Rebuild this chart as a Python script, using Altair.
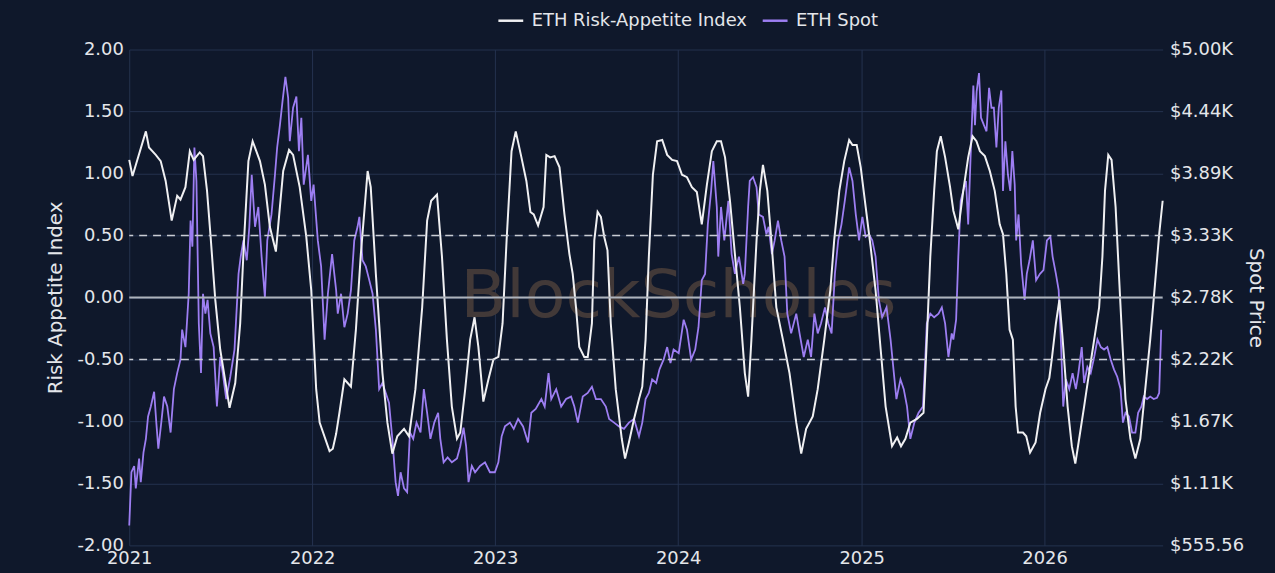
import altair as alt
import pandas as pd
import jinja2

# ---------------- data ----------------
# time positions are given as years elapsed since 2021-01-01
rai_years = [0.000,0.018,0.091,0.108,0.145,0.172,0.199,0.232,0.262,0.280,
             0.307,0.331,0.352,0.385,0.403,0.425,0.446,0.470,0.497,0.548,
             0.579,0.606,0.627,0.651,0.674,0.714,0.741,0.768,0.801,0.823,
             0.841,0.873,0.895,0.931,0.967,0.994,1.021,1.040,1.094,1.112,
             1.130,1.148,1.175,1.193,1.211,1.238,1.265,1.302,1.319,1.347,
             1.383,1.410,1.437,1.464,1.501,1.528,1.563,1.600,1.627,1.649,
             1.681,1.708,1.735,1.762,1.790,1.808,1.835,1.862,1.886,1.907,
             1.934,1.962,1.989,2.016,2.039,2.061,2.088,2.111,2.142,2.169,
             2.191,2.209,2.233,2.263,2.278,2.299,2.323,2.350,2.377,2.404,
             2.422,2.440,2.458,2.485,2.504,2.527,2.540,2.558,2.576,2.594,
             2.612,2.630,2.657,2.690,2.708,2.729,2.757,2.784,2.802,2.820,
             2.838,2.860,2.883,2.911,2.938,2.965,2.992,3.019,3.046,3.073,
             3.100,3.127,3.155,3.182,3.209,3.232,3.254,3.281,3.308,3.335,
             3.362,3.380,3.398,3.426,3.444,3.461,3.485,3.507,3.534,3.570,
             3.606,3.643,3.670,3.697,3.733,3.760,3.796,3.829,3.850,3.878,
             3.905,3.932,3.950,3.973,3.995,4.022,4.049,4.076,4.104,4.131,
             4.166,4.194,4.215,4.239,4.266,4.302,4.338,4.356,4.375,4.396,
             4.411,4.432,4.456,4.483,4.501,4.528,4.555,4.582,4.606,4.627,
             4.646,4.673,4.700,4.727,4.754,4.772,4.790,4.808,4.826,4.841,
             4.854,4.881,4.899,4.920,4.950,4.975,5.004,5.025,5.040,5.061,
             5.080,5.098,5.125,5.148,5.167,5.188,5.215,5.242,5.270,5.297,
             5.315,5.329,5.347,5.365,5.387,5.405,5.423,5.441,5.468,5.495,
             5.522,5.549,5.576,5.604,5.625,5.644]

rai_values = [1.11,0.98,1.34,1.21,1.15,1.10,0.94,0.62,0.82,0.79,
              0.89,1.18,1.11,1.17,1.14,0.86,0.46,-0.02,-0.42,-0.89,
              -0.69,-0.21,0.46,1.10,1.26,1.10,0.91,0.57,0.37,0.73,
              1.02,1.19,1.15,0.89,0.49,0.06,-0.74,-1.01,-1.24,-1.22,
              -1.10,-0.93,-0.66,-0.69,-0.72,-0.26,0.35,1.02,0.89,0.19,
              -0.61,-1.01,-1.26,-1.12,-1.06,-1.12,-0.74,-0.08,0.62,0.78,
              0.83,0.33,-0.34,-0.88,-1.14,-1.09,-0.74,-0.34,-0.16,-0.40,
              -0.84,-0.66,-0.50,-0.48,-0.21,0.46,1.18,1.34,1.13,0.94,
              0.69,0.67,0.58,0.73,1.15,1.13,1.14,1.05,0.67,0.35,
              0.19,-0.08,-0.40,-0.48,-0.48,-0.21,0.46,0.69,0.65,0.49,
              0.38,-0.21,-0.74,-1.14,-1.30,-1.17,-0.98,-0.82,-0.72,-0.34,
              0.33,0.99,1.26,1.27,1.15,1.11,1.10,0.99,0.97,0.89,
              0.85,0.59,0.91,1.18,1.26,1.26,1.13,0.78,0.35,-0.08,
              -0.61,-0.80,-0.34,0.46,0.86,1.07,0.86,0.46,-0.08,-0.34,
              -0.61,-1.01,-1.26,-1.06,-0.96,-0.74,-0.34,0.06,0.46,0.86,
              1.10,1.27,1.23,1.23,1.05,0.73,0.41,0.06,-0.42,-0.88,
              -1.20,-1.13,-1.20,-1.14,-1.01,-0.98,-0.93,-0.34,0.33,0.86,
              1.18,1.30,1.13,0.89,0.70,0.55,0.86,1.13,1.30,1.26,
              1.18,1.14,1.02,0.86,0.59,0.51,0.19,-0.26,-0.34,-0.88,
              -1.09,-1.09,-1.12,-1.25,-1.17,-0.93,-0.74,-0.65,-0.48,-0.21,
              -0.02,-0.34,-0.88,-1.20,-1.34,-1.14,-0.88,-0.61,-0.34,-0.08,
              0.33,0.86,1.15,1.11,0.73,0.19,-0.34,-0.82,-1.14,-1.30,
              -1.14,-0.74,-0.34,0.14,0.51,0.78]

spot_years = [0.000,0.012,0.027,0.036,0.054,0.063,0.078,0.091,0.103,0.118,
              0.136,0.148,0.159,0.175,0.190,0.208,0.226,0.244,0.262,0.280,
              0.289,0.307,0.325,0.335,0.345,0.356,0.367,0.380,0.392,0.403,
              0.416,0.428,0.443,0.461,0.479,0.497,0.511,0.530,0.552,0.575,
              0.597,0.609,0.624,0.642,0.656,0.669,0.687,0.705,0.723,0.741,
              0.754,0.777,0.796,0.808,0.823,0.837,0.853,0.868,0.877,0.895,
              0.913,0.927,0.940,0.953,0.976,0.994,1.007,1.030,1.048,1.067,
              1.085,1.108,1.130,1.139,1.157,1.175,1.193,1.211,1.229,1.247,
              1.257,1.274,1.292,1.311,1.329,1.347,1.365,1.383,1.401,1.419,
              1.437,1.455,1.468,1.482,1.501,1.518,1.533,1.551,1.569,1.591,
              1.609,1.627,1.645,1.666,1.687,1.699,1.717,1.739,1.762,1.790,
              1.808,1.826,1.840,1.853,1.871,1.889,1.916,1.943,1.970,1.997,
              2.016,2.034,2.052,2.079,2.100,2.124,2.151,2.178,2.196,2.220,
              2.251,2.269,2.290,2.305,2.332,2.359,2.386,2.413,2.431,2.450,
              2.477,2.504,2.527,2.549,2.576,2.603,2.621,2.648,2.675,2.702,
              2.729,2.757,2.784,2.802,2.820,2.838,2.856,2.878,2.896,2.919,
              2.938,2.956,2.973,3.001,3.028,3.046,3.069,3.091,3.109,3.127,
              3.145,3.160,3.178,3.190,3.209,3.217,3.232,3.250,3.272,3.290,
              3.308,3.330,3.353,3.362,3.380,3.389,3.407,3.426,3.438,3.461,
              3.480,3.492,3.510,3.525,3.543,3.561,3.579,3.594,3.615,3.643,
              3.661,3.684,3.706,3.724,3.742,3.760,3.778,3.800,3.818,3.836,
              3.854,3.872,3.890,3.908,3.932,3.950,3.968,3.986,4.004,4.022,
              4.040,4.058,4.076,4.094,4.112,4.136,4.158,4.176,4.190,4.212,
              4.230,4.248,4.266,4.288,4.311,4.335,4.348,4.356,4.375,4.396,
              4.420,4.438,4.456,4.474,4.492,4.501,4.516,4.528,4.541,4.555,
              4.570,4.582,4.595,4.610,4.619,4.628,4.641,4.652,4.668,4.682,
              4.696,4.709,4.722,4.736,4.749,4.763,4.772,4.785,4.799,4.812,
              4.823,4.836,4.844,4.857,4.871,4.890,4.902,4.917,4.935,4.953,
              4.974,4.993,5.012,5.031,5.043,5.061,5.076,5.088,5.101,5.115,
              5.134,5.152,5.170,5.184,5.202,5.215,5.233,5.251,5.270,5.288,
              5.306,5.324,5.342,5.360,5.378,5.396,5.414,5.427,5.441,5.460,
              5.477,5.495,5.510,5.528,5.541,5.559,5.576,5.595,5.613,5.625,
              5.636]

spot_values = [734,1211,1267,1067,1334,1122,1389,1511,1711,1800,
               1933,1656,1422,1656,1889,1800,1567,1956,2100,2222,
               2489,2333,2811,3467,3233,4122,3822,2544,2100,2811,
               2633,2756,2456,2333,1800,2244,2100,1867,2067,2311,
               2989,3144,3289,3111,3411,3878,3411,3589,3144,2778,
               3289,3522,3878,4122,4322,4533,4756,4567,4178,4478,
               4578,4089,4389,3789,4056,3644,3789,3289,3056,2400,
               2811,3167,2844,2633,2811,2511,2633,2844,3289,3411,
               3500,3111,3056,2933,2811,2489,1956,2011,1922,1833,
               1511,1122,1000,1211,1067,1033,1567,1511,1656,1567,
               1956,1744,1511,1656,1744,1511,1300,1344,1300,1334,
               1444,1611,1444,1122,1267,1211,1267,1300,1211,1211,
               1300,1533,1622,1656,1600,1689,1622,1478,1744,1778,
               1867,1800,2100,1867,1956,1800,1867,1889,1800,1656,
               1889,1922,1978,1867,1867,1800,1689,1656,1622,1600,
               1656,1689,1533,1656,1867,1922,2044,2011,2133,2222,
               2333,2189,2311,2278,2578,2489,2222,2311,2511,2933,
               2989,3433,3733,4000,3589,3144,3589,3289,3644,3167,
               2989,3144,2900,2989,3589,3822,3856,3767,3522,3500,
               3344,3411,3167,3289,3467,3289,3144,2633,2456,2633,
               2456,2244,2400,2244,2633,2456,2544,2689,2544,2456,
               2989,3289,3433,3644,3944,3822,3522,3289,3500,3322,
               3344,3289,3144,2756,2600,2689,2400,2100,1867,2044,
               1956,1800,1511,1656,1744,1800,2244,2544,2633,2600,
               2633,2689,2544,2244,2456,2400,2578,3144,3644,3733,
               3822,3433,4033,4678,4322,4622,4789,4389,4322,4267,
               4656,4478,4478,4122,4478,4633,3733,4178,3878,3733,
               4089,3789,3289,3522,3078,2756,2989,3111,3289,2933,
               2989,3022,3289,3322,3144,2989,2844,2400,1800,2044,
               1956,2100,1956,2100,2333,2011,2156,2100,2244,2400,
               2333,2311,2333,2222,2133,2067,1956,1656,1744,1711,
               1567,1567,1744,1800,1889,1867,1889,1867,1878,1922,
               2489]

series_names = ["ETH Risk-Appetite Index", "ETH Spot"]
series_colors = ["#f0f0f2", "#9d7ef2"]
rai_ticks = [-2.0, -1.5, -1.0, -0.5, 0.0, 0.5, 1.0, 1.5, 2.0]
spot_ticks = [555.56, 1111.11, 1666.67, 2222.22, 2777.78, 3333.33, 3888.89, 4444.44, 5000.0]
dashed_levels = [-0.5, 0.5]
zero_level = [0.0]
watermark_text = ["BlockScholes"]
watermark_year = [3.0]
watermark_level = [0.0]

# ---------------- frames ----------------
BASE = pd.Timestamp("2021-01-01")


def to_dates(offsets):
    return [(BASE + pd.Timedelta(days=o * 365.25)).floor("h") for o in offsets]


rai_df = pd.DataFrame({"date": to_dates(rai_years), "value": rai_values,
                       "series": series_names[0]})
spot_df = pd.DataFrame({"date": to_dates(spot_years), "price": spot_values,
                        "series": series_names[1]})
dash_df = pd.DataFrame({"value": dashed_levels})
zero_df = pd.DataFrame({"value": zero_level})
wm_df = pd.DataFrame({"date": to_dates(watermark_year), "value": watermark_level,
                      "text": watermark_text})

end_date = max(rai_df["date"].max(), spot_df["date"].max())
x_domain = [BASE.isoformat(), end_date.isoformat()]

# ---------------- style ----------------
BG = "#0f182b"
GRID = "#24324f"
TXT = "#e4e6ea"
FONT = "DejaVu Sans"

x_enc = alt.X("date:T", scale=alt.Scale(domain=x_domain, nice=False),
              axis=alt.Axis(format="%Y", tickCount="year", grid=True, gridColor=GRID,
                            gridWidth=1, ticks=False, domain=False, labelFlush=False,
                            labelPadding=4, title=None, labelFontSize=18,
                            labelColor=TXT, labelFont=FONT, labelOverlap=False))

left_scale = alt.Scale(domain=[-2, 2], nice=False, zero=False)
left_axis = alt.Axis(values=rai_ticks, orient="left", grid=True,
                     labelExpr="(datum.value < 0 ? '-' : '') + format(abs(datum.value), '.2f')",
                     gridColor=GRID, gridWidth=1, ticks=False, domain=False,
                     labelPadding=6, labelFontSize=18, labelColor=TXT, labelFont=FONT,
                     title="Risk Appetite Index", titleFontSize=20,
                     titleFontWeight="normal", titleColor=TXT, titleFont=FONT,
                     titlePadding=12, labelOverlap=False)

right_axis = alt.Axis(values=spot_ticks, orient="right", grid=False, ticks=False,
                      domain=False, labelPadding=7, labelFontSize=18, labelColor=TXT,
                      labelFont=FONT, labelOverlap=False,
                      labelExpr="datum.value >= 1000 ? '$' + format(datum.value / 1000, '.2f') + 'K' : '$' + format(datum.value, '.2f')",
                      title="Spot Price", titleFontSize=20, titleFontWeight="normal",
                      titleColor=TXT, titleFont=FONT, titlePadding=2)

color_scale = alt.Scale(domain=series_names, range=series_colors)
legend = alt.Legend(orient="none", legendX=370, legendY=-43, direction="horizontal",
                    title=None, symbolType="stroke", symbolSize=625,
                    symbolStrokeWidth=2.5, labelFontSize=18, labelColor=TXT,
                    labelFont=FONT, labelOffset=7, columnPadding=10, padding=0,
                    labelLimit=0)

watermark = alt.Chart(wm_df).mark_text(font="DejaVu Sans", fontSize=67,
                                       color="#423938", baseline="middle",
                                       align="center").encode(
    x=x_enc,
    y=alt.Y("value:Q", scale=left_scale, axis=None),
    text="text:N",
)

spot_line = alt.Chart(spot_df).mark_line(strokeWidth=1.8).encode(
    x=x_enc,
    y=alt.Y("price:Q", scale=alt.Scale(domain=[555.56, 5000], nice=False, zero=False),
            axis=right_axis),
    color=alt.Color("series:N", scale=color_scale, legend=legend),
)

rai_line = alt.Chart(rai_df).mark_line(strokeWidth=2).encode(
    x=x_enc,
    y=alt.Y("value:Q", scale=left_scale, axis=left_axis),
    color=alt.Color("series:N", scale=color_scale, legend=legend),
)

zero_rule = alt.Chart(zero_df).mark_rule(color="#aeb3bc", strokeWidth=2).encode(
    y=alt.Y("value:Q", scale=left_scale, axis=left_axis),
)

dash_rules = alt.Chart(dash_df).mark_rule(color="#c9ccd3", strokeWidth=1.6,
                                          strokeDash=[8, 6]).encode(
    y=alt.Y("value:Q", scale=left_scale, axis=left_axis),
)

top_group = alt.layer(rai_line, zero_rule, dash_rules)

chart = alt.layer(watermark, spot_line, top_group).resolve_scale(
    y="independent"
).properties(
    width=1040,
    height=499,
    autosize=alt.AutoSizeParams(type="none"),
    padding={"left": 122, "top": 40, "right": 105, "bottom": 26},
    background=BG,
).configure_view(stroke=None)

PAGE = jinja2.Template("""<!DOCTYPE html>
<html>
<head>
  <meta charset="utf-8">
  <style>
    html, body { background: """ + BG + """; overflow: hidden; }
    #{{ output_div }}.vega-embed { width: 100%; display: flex; }
  </style>
  <script type="text/javascript" src="{{ base_url }}/vega@{{ vega_version }}"></script>
  <script type="text/javascript" src="{{ base_url }}/vega-lite@{{ vegalite_version }}"></script>
  <script type="text/javascript" src="{{ base_url }}/vega-embed@{{ vegaembed_version }}"></script>
</head>
<body>
  <div id="{{ output_div }}"></div>
  <script type="text/javascript">
    (function(vegaEmbed) {
      var spec = {{ spec }};
      var embedOpt = {{ embed_options }};
      const el = document.getElementById('{{ output_div }}');
      vegaEmbed("#{{ output_div }}", spec, embedOpt).catch(function(error) {
        el.innerHTML = '<div style="color:red;">JavaScript Error: ' + error.message + '</div>';
        throw error;
      });
    })(vegaEmbed);
  </script>
</body>
</html>
""")

chart.save("out.html", embed_options={"renderer": "svg", "actions": False}, template=PAGE)
